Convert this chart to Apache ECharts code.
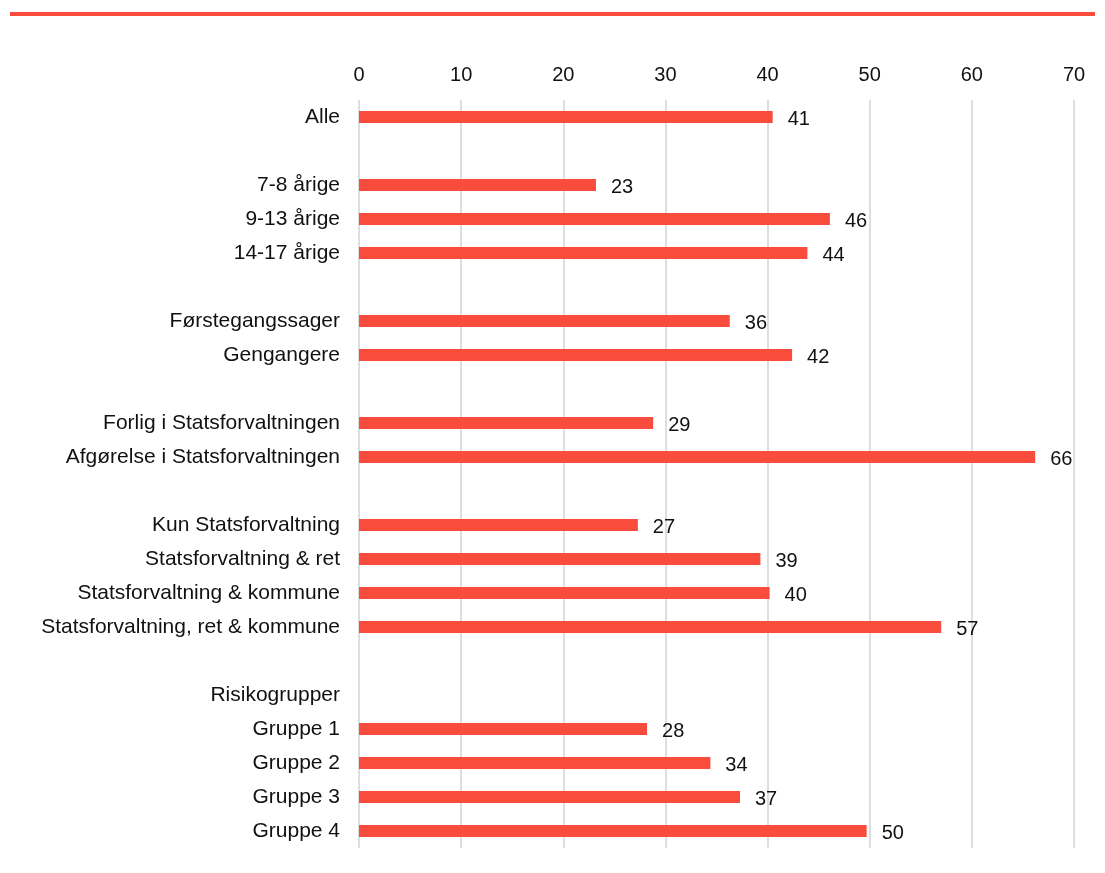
<!DOCTYPE html>
<html>
<head>
<meta charset="utf-8">
<script src="https://cdn.jsdelivr.net/npm/echarts@6/dist/echarts.min.js"></script>
<style>
html,body{margin:0;padding:0;background:#fff;}
#chart{width:1105px;height:873px;}
</style>
</head>
<body>
<div id="chart"></div>
<script>
// Categories (blank entries are spacer rows; unique strings of spaces)
const categories = [
  'Alle', ' ',
  '7-8 årige', '9-13 årige', '14-17 årige', '  ',
  'Førstegangssager', 'Gengangere', '   ',
  'Forlig i Statsforvaltningen', 'Afgørelse i Statsforvaltningen', '    ',
  'Kun Statsforvaltning', 'Statsforvaltning & ret', 'Statsforvaltning & kommune', 'Statsforvaltning, ret & kommune', '     ',
  'Risikogrupper', 'Gruppe 1', 'Gruppe 2', 'Gruppe 3', 'Gruppe 4'
];
const values = [
  40.5, null,
  23.2, 46.1, 43.9, null,
  36.3, 42.4, null,
  28.8, 66.2, null,
  27.3, 39.3, 40.2, 57.0, null,
  null, 28.2, 34.4, 37.3, 49.7
];
const xTicks = [0, 10, 20, 30, 40, 50, 60, 70];

const RED = '#f94c3c';
const FONT = '"Liberation Sans", Arial, sans-serif';

const chart = echarts.init(document.getElementById('chart'), null, {renderer: 'canvas'});
chart.setOption({
  animation: false,
  backgroundColor: '#ffffff',
  textStyle: {fontFamily: FONT},
  graphic: [{
    type: 'rect',
    shape: {x: 10, y: 12, width: 1085, height: 4},
    style: {fill: RED},
    silent: true
  }],
  grid: {left: 359, right: 31, top: 100, bottom: 25, containLabel: false},
  xAxis: {
    type: 'value',
    position: 'top',
    min: xTicks[0],
    max: xTicks[xTicks.length - 1],
    interval: xTicks[1] - xTicks[0],
    axisLine: {show: false},
    axisTick: {show: false},
    axisLabel: {
      margin: 15,
      fontSize: 20,
      color: '#111',
      fontFamily: FONT
    },
    splitLine: {show: true, lineStyle: {color: '#dedede', width: 2}}
  },
  yAxis: {
    type: 'category',
    inverse: true,
    data: categories,
    axisLine: {show: false},
    axisTick: {show: false},
    axisLabel: {
      margin: 19,
      fontSize: 21,
      color: '#111',
      fontFamily: FONT,
      interval: 0
    },
    splitLine: {show: false}
  },
  series: [{
    type: 'bar',
    data: values,
    barWidth: 12,
    itemStyle: {color: RED},
    label: {
      show: true,
      position: 'right',
      distance: 15,
      offset: [0, 2],
      fontSize: 20,
      color: '#111',
      fontFamily: FONT,
      formatter: p => (p.value == null ? '' : Math.round(p.value))
    }
  }]
});
</script>
</body>
</html>
